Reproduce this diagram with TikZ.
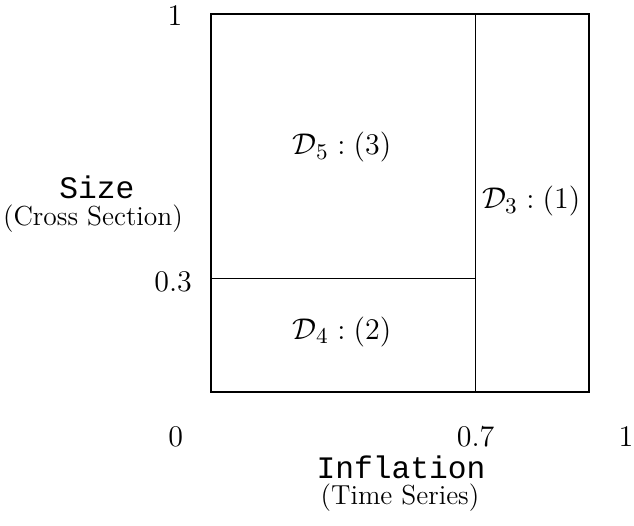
\documentclass[tikz,border=0pt]{standalone}
\usepackage{fontspec}
\setmonofont{Liberation Mono}
\begin{document}
\begin{tikzpicture}[x=0.5314cm,y=0.5314cm,font=\fontsize{12.5}{15}\selectfont]
\useasboundingbox (-5.58,-3.52) rectangle (11.19,10.37);
\draw[thick] (0,0) rectangle (10,10);
\draw (7,0) -- (7,10);
\draw (0,3) -- (7,3);

\node (topone) at (-0.95,9.95) {$1$};
\node (ythree) at (-1.0,2.92) {$0.3$};
\node (zero) at (-0.93,-1.19) {$0$};
\node (xseven) at (7,-1.19) {$0.7$};
\node (rightone) at (10.98,-1.19) {$1$};

\node (dfive) at (3.47,6.48) {$\mathcal{D}_5:(3)$};
\node (dthree) at (8.47,5.05) {$\mathcal{D}_3:(1)$};
\node (dfour) at (3.47,1.59) {$\mathcal{D}_4:(2)$};

\node (size) at (-3.02,5.42) {\texttt{Size}};
\node (cross) at (-3.12,4.6) {\fontsize{11}{13}\selectfont (Cross Section)};
\node (infl) at (5.03,-1.98) {\texttt{Inflation}};
\node (time) at (5.0,-2.78) {\fontsize{11}{13}\selectfont (Time Series)};
\end{tikzpicture}
\end{document}
